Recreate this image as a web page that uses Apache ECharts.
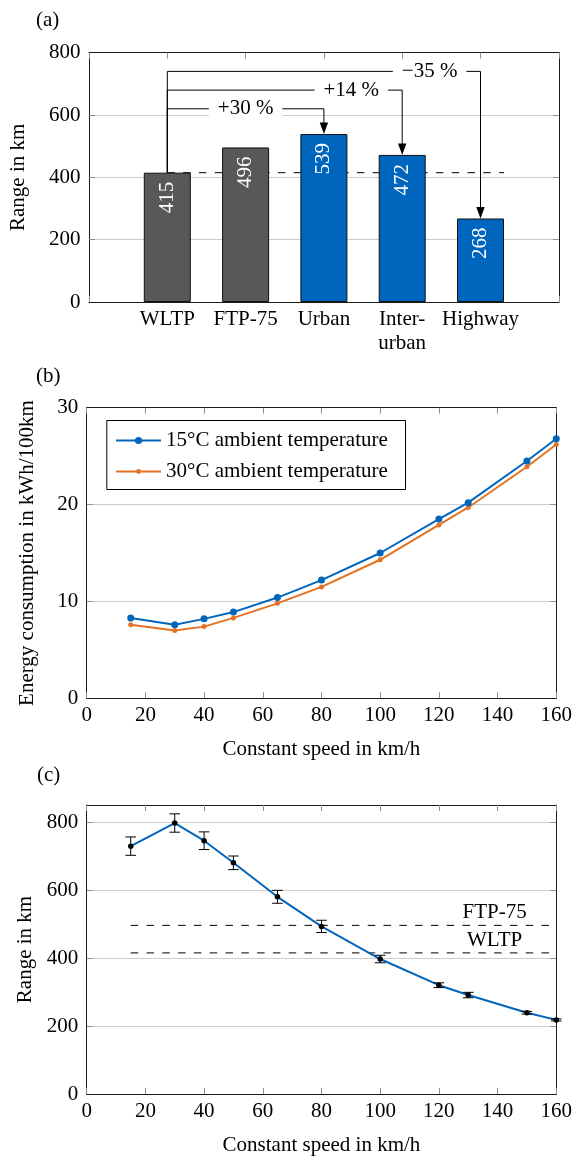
<!DOCTYPE html>
<html>
<head>
<meta charset="utf-8">
<script src="https://cdn.jsdelivr.net/npm/echarts@6/dist/echarts.min.js"></script>
<style>
  html, body { margin: 0; padding: 0; background: #fff; }
  #chart { width: 575px; height: 1157px; }
</style>
</head>
<body>
<div id="chart"></div>
<script>
// ---- (a) range per driving cycle -------------------------------------
const cycleNames = ['WLTP', 'FTP-75', 'Urban', 'Inter-\nurban', 'Highway'];
const cycleRange = [415, 496, 539, 472, 268];
const rangeTicks = [0, 200, 400, 600, 800];
// comparison arrows from WLTP to the real-drive cycles
const arrowTargets = [3, 4, 5];            // category position, 1-based
const arrowLevels = [620, 680, 740];       // height of the horizontal leg in km
const arrowLabels = ['+30 %', '+14 %', '\u221235 %'];
const arrowLabelAt = [2, 3.35, 4.35];      // x position of the percentage label

// ---- (b) energy consumption at constant speed ------------------------
const speeds = [15, 30, 40, 50, 65, 80, 100, 120, 130, 150, 160];
const consumption15 = [8.3, 7.6, 8.2, 8.9, 10.4, 12.2, 15.0, 18.5, 20.2, 24.5, 26.8];
const consumption30 = [7.6, 7.0, 7.4, 8.3, 9.8, 11.5, 14.3, 17.9, 19.7, 23.9, 26.2];

// ---- (c) range at constant speed: mean and spread ---------------------
const rangeMean = [729, 797, 745, 680, 580, 493, 397, 320, 291, 239, 218];
const rangeErr = [27, 27, 26, 20, 19, 18, 11, 7, 8, 4, 3];
const refNames = ['FTP-75', 'WLTP'];
const refValues = [cycleRange[1], cycleRange[0]];

const FONT = 'Liberation Serif';
const FS = 21;
const INK = '#000';
const FRAME = '#1a1a1a';
const TICK = '#8f8f8f';
const GRIDLINE = '#cccccc';
const BLUE = '#0065bd';
const ORANGE = '#e37222';
const GREY = '#58585a';

const chart = echarts.init(document.getElementById('chart'), null, { renderer: 'canvas' });

const grids = [
  { left: 86.8, top: 52.7, width: 472, height: 249.3 },
  { left: 86.7, top: 407.7, width: 472.3, height: 290.6 },
  { left: 86.7, top: 805, width: 472.3, height: 291 }
];

const labelFont = { fontFamily: FONT, fontSize: FS, color: INK };

function xBottom(gi, min, max, interval, extra) {
  return Object.assign({
    gridIndex: gi, type: 'value', position: 'bottom', min, max, interval, z: 1,
    axisLine: { show: true, onZero: false, lineStyle: { color: FRAME, width: 1 } },
    axisTick: { show: true, inside: true, length: 6, lineStyle: { color: TICK } },
    axisLabel: Object.assign({ margin: 7 }, labelFont),
    splitLine: { show: false },
    nameLocation: 'middle', nameGap: 41,
    nameTextStyle: Object.assign({}, labelFont)
  }, extra || {});
}
function xTop(gi, min, max, interval) {
  return {
    gridIndex: gi, type: 'value', position: 'top', min, max, interval, z: 1,
    axisLine: { show: true, onZero: false, lineStyle: { color: FRAME, width: 1 } },
    axisTick: { show: true, inside: true, length: 6, lineStyle: { color: TICK } },
    axisLabel: { show: false }, splitLine: { show: false }
  };
}
function yLeft(gi, min, max, interval, extra) {
  return Object.assign({
    gridIndex: gi, type: 'value', position: 'left', min, max, interval,
    axisLine: { show: true, onZero: false, lineStyle: { color: FRAME, width: 1 } },
    axisTick: { show: true, inside: true, length: 6, lineStyle: { color: TICK } },
    axisLabel: Object.assign({ margin: 8.5 }, labelFont),
    splitLine: { show: true, showMinLine: false, showMaxLine: false, lineStyle: { color: GRIDLINE, width: 1 } },
    nameLocation: 'middle',
    nameTextStyle: Object.assign({}, labelFont)
  }, extra || {});
}
function yRight(gi, min, max, interval) {
  return {
    gridIndex: gi, type: 'value', position: 'right', min, max, interval,
    axisLine: { show: true, onZero: false, lineStyle: { color: FRAME, width: 1 } },
    axisTick: { show: true, inside: true, length: 6, lineStyle: { color: TICK } },
    axisLabel: { show: false }, splitLine: { show: false }
  };
}

const option = {
  animation: false,
  backgroundColor: '#fff',
  textStyle: { fontFamily: FONT },
  title: [
    { text: '(a)', left: 36, top: 10 },
    { text: '(b)', left: 36, top: 366 },
    { text: '(c)', left: 37, top: 765 }
  ].map(t => Object.assign(t, {
    padding: 0,
    textStyle: { fontFamily: FONT, fontSize: FS, fontWeight: 'normal', color: INK, lineHeight: 21 }
  })),
  grid: grids,
  xAxis: [
    xBottom(0, 0, cycleNames.length + 1, 1, {
      axisLabel: Object.assign({ margin: 6, lineHeight: 23.5,
        formatter: v => (v >= 1 && v <= cycleNames.length) ? cycleNames[v - 1] : '' }, labelFont)
    }),
    xTop(0, 0, cycleNames.length + 1, 1),
    xBottom(1, 0, 160, 20, { name: 'Constant speed in km/h' }),
    xTop(1, 0, 160, 20),
    xBottom(2, 0, 160, 20, { name: 'Constant speed in km/h' }),
    xTop(2, 0, 160, 20)
  ],
  yAxis: [
    yLeft(0, 0, 800, 200, { name: 'Range in km', nameGap: 60 }),
    yRight(0, 0, 800, 200),
    yLeft(1, 0, 30, 10, { name: 'Energy consumption in kWh/100km', nameGap: 49 }),
    yRight(1, 0, 30, 10),
    yLeft(2, 0, 850, 200, {
      name: 'Range in km', nameGap: 51,
      axisLabel: Object.assign({ margin: 8.5, formatter: v => (rangeTicks.indexOf(v) >= 0 ? String(v) : '') }, labelFont)
    }),
    yRight(2, 0, 850, 200)
  ],
  legend: [
    {
      data: ['15°C ambient temperature'], left: 115, top: 430, orient: 'vertical',
      itemWidth: 45, itemHeight: 9, padding: 0, selectedMode: false, z: 6,
      textStyle: { fontFamily: FONT, fontSize: FS, color: INK }
    },
    {
      data: ['30°C ambient temperature'], left: 115, top: 461, orient: 'vertical',
      itemWidth: 45, itemHeight: 6, padding: 0, selectedMode: false, z: 6,
      textStyle: { fontFamily: FONT, fontSize: FS, color: INK }
    }
  ],
  graphic: [
    {
      type: 'rect', left: 106.3, top: 420, z: 5,
      shape: { width: 298.7, height: 69 },
      style: { fill: '#fff', stroke: '#000', lineWidth: 1 }
    }
  ],
  series: [
    // (a) WLTP reference level
    {
      type: 'line', xAxisIndex: 0, yAxisIndex: 0, z: 1, silent: true,
      data: [[1, cycleRange[0]], [5.3, cycleRange[0]]],
      symbol: 'none',
      lineStyle: { color: '#000', width: 1, type: [7.5, 8.3] }
    },
    // (a) range bars
    {
      type: 'bar', xAxisIndex: 0, yAxisIndex: 0, z: 2, barWidth: 47,
      data: cycleRange.map((v, i) => ({ value: [i + 1, v], itemStyle: { color: i < 2 ? GREY : BLUE } })),
      itemStyle: { borderColor: '#111', borderWidth: 1 },
      label: {
        show: true, position: 'insideTop', distance: 9, rotate: 90,
        align: 'right', verticalAlign: 'middle',
        color: '#fff', fontFamily: FONT, fontSize: FS,
        formatter: p => String(p.value[1])
      }
    },
    // (a) comparison arrows
    {
      type: 'custom', xAxisIndex: 0, yAxisIndex: 0, z: 3, silent: true,
      data: arrowTargets.map((t, i) => [t, arrowLevels[i], arrowLabelAt[i], cycleRange[t - 1]]),
      renderItem(params, api) {
        const i = params.dataIndex;
        const to = api.value(0), lvl = api.value(1), lx = api.value(2), tgt = api.value(3);
        const p0 = api.coord([1, cycleRange[0]]);
        const p1 = api.coord([1, lvl]);
        const p2 = api.coord([to, lvl]);
        const tip = api.coord([to, tgt]);
        const lp = api.coord([lx, lvl]);
        const head = 11.5, hw = 4.2;
        return {
          type: 'group',
          children: [
            {
              type: 'polyline',
              shape: { points: [p0, p1, p2, [tip[0], tip[1] - head + 1]] },
              style: { stroke: '#000', lineWidth: 1, fill: null }
            },
            {
              type: 'polygon',
              shape: { points: [[tip[0] - hw, tip[1] - head], [tip[0] + hw, tip[1] - head], [tip[0], tip[1]]] },
              style: { fill: '#000' }
            },
            {
              type: 'text', x: lp[0], y: lp[1],
              style: {
                text: arrowLabels[i], fontFamily: FONT, fontSize: FS, fill: '#000',
                align: 'center', verticalAlign: 'middle',
                backgroundColor: '#fff', padding: [0, 9]
              }
            }
          ]
        };
      }
    },
    // (b) consumption curves
    {
      name: '30°C ambient temperature',
      type: 'line', xAxisIndex: 2, yAxisIndex: 2, z: 3,
      data: speeds.map((s, i) => [s, consumption30[i]]),
      symbol: 'circle', symbolSize: 5, showSymbol: true,
      itemStyle: { color: ORANGE }, lineStyle: { color: ORANGE, width: 2 }
    },
    {
      name: '15°C ambient temperature',
      type: 'line', xAxisIndex: 2, yAxisIndex: 2, z: 4,
      data: speeds.map((s, i) => [s, consumption15[i]]),
      symbol: 'circle', symbolSize: 7, showSymbol: true,
      itemStyle: { color: BLUE }, lineStyle: { color: BLUE, width: 2 }
    },
    // (c) WLTP / FTP-75 reference levels
    {
      type: 'custom', xAxisIndex: 4, yAxisIndex: 4, z: 2, silent: true,
      data: refValues.map(v => [v]),
      renderItem(params, api) {
        const v = api.value(0);
        const a = api.coord([speeds[0], v]);
        const b = api.coord([160, v]);
        const t = api.coord([139, v]);
        return {
          type: 'group',
          children: [
            {
              type: 'line',
              shape: { x1: a[0], y1: a[1], x2: b[0], y2: b[1] },
              style: { stroke: '#000', lineWidth: 1, lineDash: [7.5, 8.3] }
            },
            {
              type: 'text', x: t[0], y: t[1] - 2,
              style: {
                text: refNames[params.dataIndex], fontFamily: FONT, fontSize: FS, fill: '#000',
                align: 'center', verticalAlign: 'bottom'
              }
            }
          ]
        };
      }
    },
    // (c) mean range
    {
      type: 'line', xAxisIndex: 4, yAxisIndex: 4, z: 3,
      data: speeds.map((s, i) => [s, rangeMean[i]]),
      symbol: 'circle', symbolSize: 5.5, showSymbol: true,
      itemStyle: { color: '#000' }, lineStyle: { color: BLUE, width: 2 }
    },
    // (c) spread of the range
    {
      type: 'custom', xAxisIndex: 4, yAxisIndex: 4, z: 5, silent: true,
      data: speeds.map((s, i) => [s, rangeMean[i], rangeErr[i]]),
      renderItem(params, api) {
        const s = api.value(0), m = api.value(1), e = api.value(2);
        const hi = api.coord([s, m + e]);
        const lo = api.coord([s, m - e]);
        const cap = 5.3;
        const st = { stroke: '#000', lineWidth: 1 };
        return {
          type: 'group',
          children: [
            { type: 'line', shape: { x1: hi[0], y1: hi[1], x2: lo[0], y2: lo[1] }, style: st },
            { type: 'line', shape: { x1: hi[0] - cap, y1: hi[1], x2: hi[0] + cap, y2: hi[1] }, style: st },
            { type: 'line', shape: { x1: lo[0] - cap, y1: lo[1], x2: lo[0] + cap, y2: lo[1] }, style: st }
          ]
        };
      }
    }
  ]
};

chart.setOption(option);
</script>
</body>
</html>
